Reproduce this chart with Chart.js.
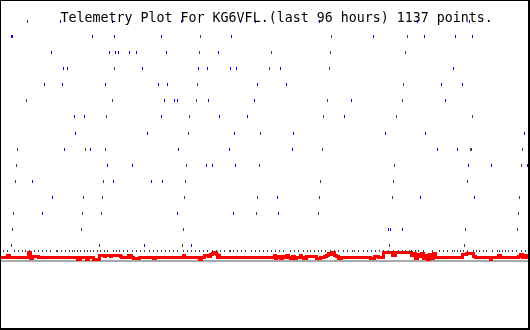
<!DOCTYPE html>
<html>
<head>
<meta charset="utf-8">
<script src="https://cdn.jsdelivr.net/npm/chart.js@4/dist/chart.umd.min.js"></script>
<style>
  html, body { margin: 0; padding: 0; background: #fff; }
  #frame {
    width: 530px; height: 330px; box-sizing: border-box;
    border-style: solid; border-color: #000; border-width: 1px 2px 2px 1px;
  }
  #plot { display: block; }
</style>
</head>
<body>
<div id="frame"><canvas id="plot" width="527" height="327"></canvas></div>
<script>
const titleText = 'Telemetry Plot For KG6VFL.(last 96 hours) 1137 points.';

// height of each telemetry level above the baseline, top row first
const rowLevels = [241, 226, 210, 194, 178, 162, 146, 129, 113, 97, 81, 65, 49, 33, 17];

// sample positions (time slots across 96 h) of the blue channel, one list per level
const blueByRow = [
  [60, 112, 181, 199, 240, 255, 319, 417, 469],
  [11, 12, 92, 114, 161, 231, 373, 424, 455, 472],
  [51, 109, 115, 118, 129, 136, 166, 218],
  [63, 67, 142, 198, 207, 230, 236, 280, 453],
  [44, 62, 105, 158, 167, 257, 286, 441, 462],
  [164, 174, 177, 208, 254, 351, 445],
  [74, 84, 161, 219, 247, 344],
  [75, 147, 234, 293, 385, 425, 524],
  [64, 90, 178, 229, 292, 437, 457],
  [107, 132, 206, 212, 235, 468, 491, 527],
  [32, 113, 151, 162],
  [52, 277, 420, 474],
  [42, 177, 233, 278],
  [388, 390, 402],
  [144, 191]
];

// same for the gray channel
const grayByRow = [
  [27, 528],
  [200, 331, 407],
  [199, 271, 330, 405],
  [114, 269, 329],
  [197, 403],
  [26, 112, 196, 327, 402],
  [106, 189, 323, 396, 472],
  [188, 260],
  [17, 85, 105, 322, 470, 471, 522],
  [16, 186, 259, 394, 521],
  [15, 103, 185, 320, 393, 467],
  [83, 102, 184, 257, 319, 392, 519],
  [13, 82, 101, 256, 318, 518],
  [12, 81, 183, 465, 517],
  [11, 99, 182, 389, 464]
];

// the dotted black channel, constant level
const tickLevel = 11.5;
const tickX = [3, 7, 14, 18, 22, 25, 29, 34, 38, 42, 46, 50, 56, 57, 61, 65, 69, 72, 74, 77, 80, 84, 87, 90, 93, 97,
  100, 104, 107, 113, 116, 119, 123, 127, 132, 136, 140, 144, 149, 153, 157, 161, 165, 169, 173, 177, 183, 187, 191,
  195, 199, 203, 207, 212, 216, 220, 224, 229, 230, 233, 237, 241, 245, 251, 255, 259, 263, 267, 271, 275, 279, 283,
  290, 294, 298, 303, 307, 310, 314, 318, 321, 325, 330, 334, 338, 343, 347, 352, 354, 358, 363, 367, 371, 375, 379,
  383, 388, 393, 398, 402, 405, 409, 411, 415, 418, 423, 432, 439, 443, 447, 452, 454, 457, 460, 463, 467, 473, 476,
  479, 483, 486, 492, 497, 499, 502, 505, 508, 512, 516, 521, 525];

// red channel: each entry starts a run at that level
const redX = [0, 7, 9, 28, 30, 32, 38, 77, 80, 86, 88, 93, 99, 104, 105, 110, 111, 120, 121, 128, 131, 133, 139, 153,
  155, 183, 184, 199, 201, 204, 208, 210, 212, 214, 216, 217, 218, 219, 274, 275, 276, 278, 280, 282, 284, 286, 288,
  290, 292, 294, 296, 300, 301, 303, 306, 316, 320, 324, 326, 328, 330, 332, 334, 336, 338, 341, 370, 374, 378, 383,
  392, 395, 411, 413, 415, 417, 419, 421, 423, 425, 427, 429, 431, 433, 435, 462, 466, 473, 475, 490, 491, 498, 500,
  518, 520, 522, 524, 527, 528];
const redY = [5, 7, 5, 10, 4, 6, 5, 3, 5, 3, 5, 3, 7, 6, 7, 6, 7, 6, 5, 7, 5, 4, 5, 4,
  5, 7, 5, 3, 5, 7, 6, 8, 9, 10, 8, 5, 7, 5, 7, 4, 5, 6, 4, 6, 5, 7, 5,
  4, 6, 4, 5, 7, 5, 4, 6, 4, 5, 6, 7, 9, 8, 10, 7, 6, 4, 5, 4, 6, 5, 10,
  7, 10, 7, 9, 4, 8, 6, 9, 4, 7, 3, 8, 4, 9, 5, 8, 9, 6, 5, 3, 5, 7, 5,
  6, 8, 5, 7, 5, 5];

// gray reference line
const baseLevel = 1.5;
const baseX = [0, 528];

function rowPoints(rows) {
  const pts = [];
  rows.forEach((xs, i) => xs.forEach(x => pts.push({ x: x, y: rowLevels[i] })));
  return pts;
}

const titlePlugin = {
  id: 'plotTitle',
  afterDraw(chart) {
    const ctx = chart.ctx;
    ctx.save();
    ctx.font = '13.3px "DejaVu Sans Mono"';
    ctx.fillStyle = '#000';
    ctx.textBaseline = 'alphabetic';
    ctx.fillText(titleText, 59.5, 21);
    ctx.restore();
  }
};

const dot = { pointStyle: 'line', rotation: 90, pointBorderWidth: 1, showLine: false };

new Chart(document.getElementById('plot'), {
  type: 'scatter',
  data: {
    datasets: [
      { ...dot, label: 'blue', data: rowPoints(blueByRow), pointRadius: 1.5, borderColor: '#0000ff', backgroundColor: '#0000ff' },
      { ...dot, label: 'gray', data: rowPoints(grayByRow), pointRadius: 1.5, borderColor: '#404040', backgroundColor: '#404040' },
      { ...dot, label: 'ticks', data: tickX.map(x => ({ x: x, y: tickLevel })), pointRadius: 1, borderColor: '#404040', backgroundColor: '#404040' },
      { label: 'red', data: redX.map((x, i) => ({ x: x, y: redY[i] })), showLine: true, stepped: 'before',
        borderColor: '#ff0000', borderWidth: 3, pointRadius: 0 },
      { label: 'base', data: baseX.map(x => ({ x: x, y: baseLevel })), showLine: true,
        borderColor: '#aaaaaa', borderWidth: 2, pointRadius: 0 }
    ]
  },
  options: {
    responsive: false,
    animation: false,
    events: [],
    layout: { padding: 0, autoPadding: false },
    scales: {
      x: { type: 'linear', display: false, min: 0.5, max: 527.5 },
      y: { type: 'linear', display: false, min: -65.5, max: 261.5 }
    },
    plugins: {
      legend: { display: false },
      tooltip: { enabled: false },
      title: { display: false }
    }
  },
  plugins: [titlePlugin]
});
</script>
</body>
</html>
